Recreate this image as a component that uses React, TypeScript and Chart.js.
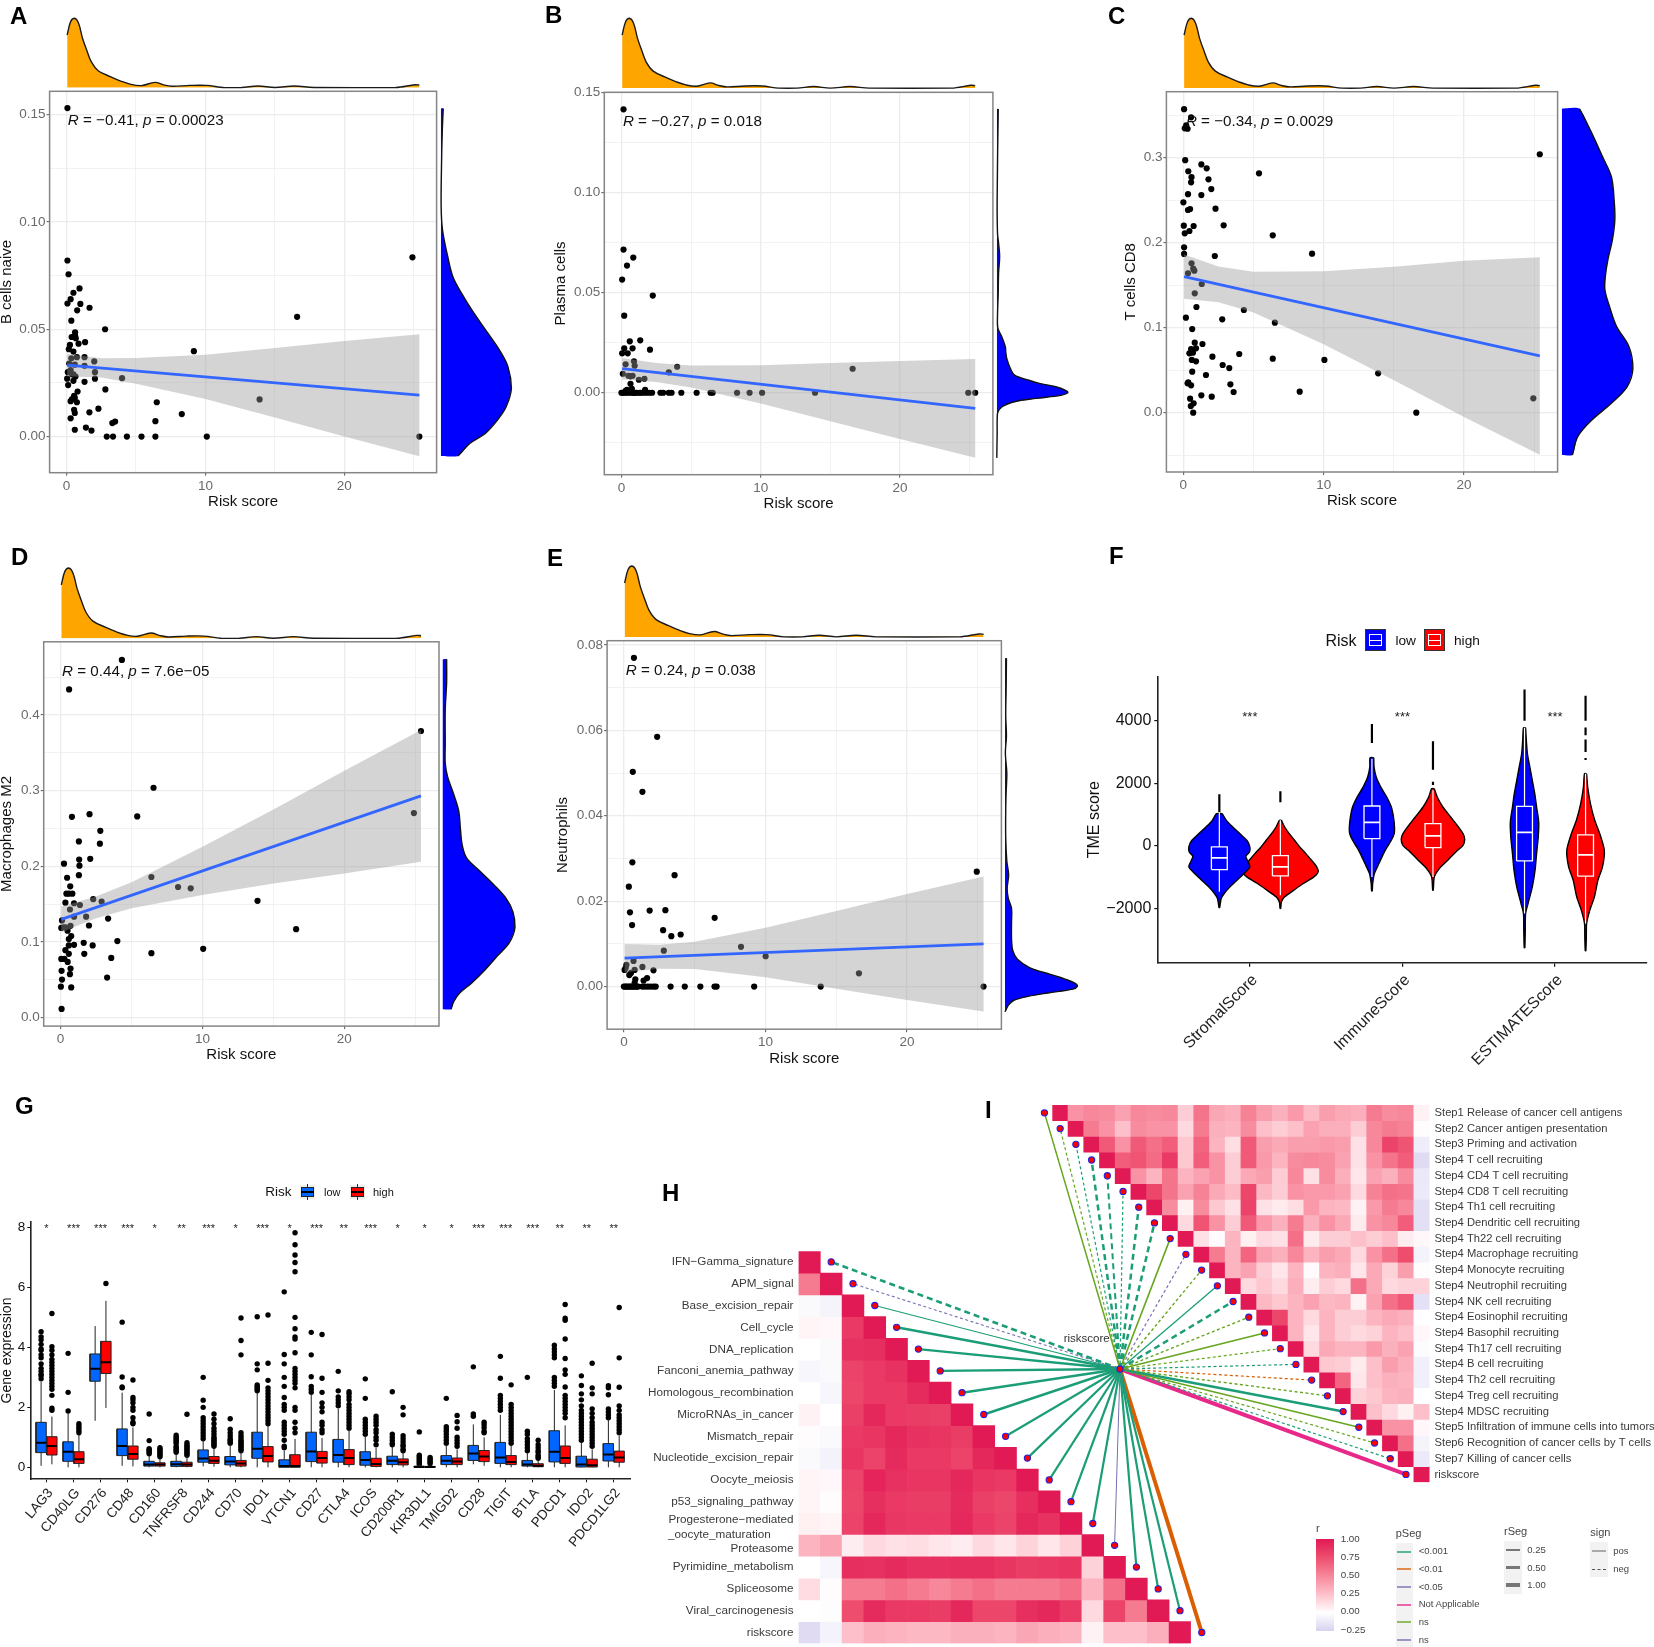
import React, { useEffect, useRef } from "react";
import { Chart, registerables } from "chart.js";

Chart.register(...registerables);
const FONT = '"Liberation Sans", Arial, sans-serif';
Chart.defaults.font.family = FONT;
Chart.defaults.layout.autoPadding = false;

// ---------- shared risk-score density (top marginals)
const riskDensity = [[.05,.76],[.3,.952],[.57,1],[.87,.93],[1.16,.71],[1.46,.54],[1.78,.375],[2.28,.245],[3.15,.16],[3.9,.096],[4.63,.048],[5.4,.03],[6.37,.077],[7,.04],[7.6,.02],[8.85,.033],[10.1,.033],[11.3,.002],[12.6,.002],[13.8,.025],[15,.002],[16.4,.025],[17.8,.002],[23.7,.002],[25.1,.043],[25.4,.038]];

// ---------- panel A
const aPoints = [[.07,.153],[.07,.082],[.15,.0756],[.94,.069],[.5,.067],[.3,.064],[.07,.062],[1,.0618],[1.66,.06],[.77,.0588],[.35,.054],[2.78,.05],[.62,.0486],[.62,.047],[.37,.0464],[.67,.0458],[1.34,.044],[.87,.0433],[.25,.0427],[.17,.0407],[.5,.0396],[9.17,.0398],[.35,.0365],[.75,.037],[.6,.0335],[1.3,.037],[2,.035],[1.3,.033],[.2,.034],[.3,.031],[.5,.029],[.65,.028],[.5,.026],[.4,.029],[.1,.03],[.05,.027],[.12,.024],[2.05,.03],[2.05,.027],[1.3,.0255],[4,.0272],[2.8,.022],[.8,.021],[.6,.018],[.55,.019],[.75,.016],[.3,.0165],[.4,.0175],[.55,.0125],[.6,.011],[1.65,.0113],[2.3,.013],[.3,.0085],[6.5,.016],[8.3,.0105],[13.9,.0173],[6.4,.0072],[3.5,.007],[3.3,.0063],[1.4,.0042],[1.8,.0028],[.6,.0032],[2.9,0],[3.35,0],[4.35,0],[5.4,0],[6.4,0],[10.1,0],[16.6,.0558],[24.9,.0835],[25.4,0]];
const ciX = [.05, 2.5, 5, 10, 15, 20, 25.4];
const aUpper = [.0385,.0365,.0366,.0381,.0413,.0445,.0477];
const aLower = [.0281,.0275,.0246,.0175,.0089,.0001,-.0091];
const aFit = [.0333, .0193];
const aDensity = [[.1528,.034],[.1413,.02],[.1258,.01],[.1071,.005],[.0963,.024],[.0839,.098],[.0745,.171],[.0668,.293],[.059,.439],[.0497,.634],[.0404,.829],[.0326,.951],[.0225,1],[.014,.927],[.0078,.805],[.0016,.634],[-.0031,.415],[-.009,.244]];

// ---------- panel B
const bPoints = [[.15,.1415],[.15,.0715],[.85,.0675],[.4,.0635],[.05,.0565],[2.25,.0485],[.2,.0385],[1.35,.0262],[.6,.0257],[.2,.0222],[.8,.0222],[2.05,.0215],[.05,.0197],[.45,.0197],[.9,.0157],[.95,.0135],[.3,.0142],[3.4,.0102],[4,.013],[16.6,.012],[.1,.0095],[.5,.0085],[.65,.0082],[.65,.0045],[1.25,.0065],[1.65,.007],[.8,.0085],[0,0],[.1,0],[.2,0],[.3,.001],[.35,0],[.4,.0015],[.5,0],[.6,.001],[.7,0],[.75,.002],[.8,0],[.9,0],[1,0],[1.1,0],[1.3,0],[1.4,0],[1.6,0],[1.7,.0015],[1.8,0],[2,0],[2.2,0],[2.8,0],[3,0],[3.4,0],[3.6,0],[4.3,0],[5.4,0],[6.4,0],[6.55,0],[8.3,0],[9.2,0],[10.1,0],[13.9,0],[24.9,0],[25.4,0]];
const bUpper = [.0173,.0148,.0136,.0137,.0148,.0159,.0168];
const bLower = [.0067,.0054,.0026,-.0053,-.0142,-.0231,-.0324];
const bFit = [.012, -.0078];
const bDensity = [[.1417,.02],[.0963,.005],[.0797,.01],[.0747,.025],[.068,.04],[.0597,.025],[.0497,.02],[.038,.01],[.0322,.015],[.028,.07],[.023,.12],[.0205,.126],[.0172,.14],[.0122,.19],[.0088,.25],[.0063,.45],[.0047,.6],[.003,.83],[.001,.98],[0,1],[-.0013,.9],[-.0028,.55],[-.0045,.25],[-.007,.075],[-.0103,.01],[-.0203,.005],[-.0325,0]];

// ---------- panel C
const cPoints = [[.05,.357],[.55,.3475],[.1,.3345],[.3,.334],[.2,.338],[25.4,.304],[.13,.297],[1.28,.292],[1.66,.2875],[.35,.284],[.58,.277],[1.79,.2745],[.55,.271],[5.39,.2816],[1.99,.263],[.33,.257],[1.28,.256],[0,.2475],[2.29,.24],[.48,.2396],[.33,.2384],[2.87,.2204],[.03,.22],[.73,.2196],[.43,.2137],[.1,.211],[6.37,.2086],[.05,.1945],[9.17,.187],[.05,.1867],[2.24,.1843],[.58,.1757],[.7,.1694],[.78,.167],[.33,.164],[1.31,.1514],[.81,.1404],[.93,.1243],[4.31,.1208],[.18,.1118],[2.77,.1098],[6.52,.1059],[.63,.0984],[.81,.0824],[1.36,.0808],[.9,.0757],[.55,.0749],[.43,.0698],[.68,.0706],[3.98,.069],[2.07,.0659],[6.37,.0635],[10.05,.062],[.6,.062],[.9,.0604],[2.8,.0561],[3.27,.0525],[.63,.0482],[13.88,.0463],[1.61,.0443],[.35,.0357],[.3,.0345],[.55,.0322],[3.35,.0333],[3.58,.0243],[8.29,.0247],[1.28,.0204],[2.02,.0188],[.48,.0165],[24.94,.0169],[.73,.011],[.53,.0078],[.7,0],[16.6,0]];
const cUpper = [.186,.172,.1658,.1664,.1718,.1786,.1829];
const cLower = [.134,.13,.1178,.0806,.0382,-.005,-.0495];
const cFit = [.16, .0667];
const cDensity = [[.3576,.249],[.3286,.423],[.3012,.572],[.2776,.697],[.2502,.736],[.2267,.746],[.2031,.711],[.1796,.647],[.16,.612],[.1443,.607],[.1247,.672],[.1012,.771],[.0776,.945],[.0522,1],[.0306,.92],[.011,.697],[-.0086,.423],[-.0282,.224],[-.0498,.149]];

// ---------- panel D
const dPoints = [[4.32,.473],[.6,.434],[25.4,.379],[6.55,.304],[24.9,.2705],[5.4,.266],[.8,.2656],[2.04,.269],[2.8,.247],[2.77,.23],[1.29,.233],[1.31,.209],[2.09,.21],[.24,.2036],[1.33,.2009],[1.29,.1884],[.46,.185],[6.4,.186],[.68,.1737],[8.28,.1728],[9.17,.171],[.41,.164],[.58,.164],[.83,.164],[2.3,.1567],[2.89,.1536],[.34,.152],[.95,.1513],[1.36,.149],[13.88,.1545],[.66,.143],[1.8,.1335],[.95,.1335],[3.35,.131],[.1,.1286],[.2,.1196],[.05,.1187],[.34,.1196],[.7,.1214],[2,.1219],[.49,.115],[16.6,.117],[.75,.108],[.58,.104],[4,.1013],[1.63,.099],[10.05,.091],[.95,.0964],[.58,.0955],[2.26,.0955],[.34,.0893],[.58,.0844],[6.4,.0853],[1.67,.0844],[3.57,.079],[.05,.0777],[.27,.0777],[.5,.0737],[.7,.065],[.07,.062],[.66,.0576],[3.28,.053],[.1,.0504],[.75,.04],[.02,.041],[.07,.0116]];
const dUpper = [.147,.1603,.1792,.2259,.2752,.3263,.3803];
const dLower = [.113,.1313,.1446,.1623,.1774,.1907,.2063];
const dFit = [.13, .2933];
const dDensity = [[.4737,.057],[.4433,.057],[.4076,.038],[.363,.038],[.3362,.038],[.3183,.071],[.296,.152],[.2737,.223],[.2513,.246],[.229,.27],[.2112,.332],[.1933,.521],[.1754,.711],[.1576,.877],[.1397,.972],[.1196,1],[.0996,.924],[.0817,.758],[.0638,.592],[.046,.403],[.0326,.237],[.0214,.156],[.0112,.118]];

// ---------- panel E
const ePoints = [[.71,.077],[2.35,.0585],[.63,.0503],[1.31,.0456],[.6,.0291],[24.92,.0269],[3.58,.0261],[.35,.0234],[.43,.0174],[1.82,.0178],[2.93,.0179],[6.41,.0161],[.58,.0144],[2.77,.0132],[3.35,.0118],[4.01,.0122],[2.82,.0084],[8.27,.0093],[10.01,.0071],[.68,.006],[.18,.0051],[.13,.0044],[.05,.0039],[1.31,.0046],[2.09,.0038],[.76,.0039],[.5,.0032],[.38,.0027],[16.6,.0031],[.81,.0017],[1.39,.0014],[1.64,.002],[.76,.0009],[0,0],[.1,0],[.2,0],[.3,0],[.4,0],[.5,0],[.6,0],[.7,0],[.8,0],[.9,0],[1,0],[1.3,0],[1.5,0],[1.7,0],[1.9,0],[2.1,0],[2.25,0],[3.3,0],[4.3,0],[5.4,0],[6.4,0],[6.55,0],[9.2,0],[13.9,0],[25.4,0]];
const eUpper = [.00995,.00978,.0105,.01376,.01771,.02167,.02578];
const eLower = [.00335,.00418,.0041,.00216,-.00049,-.00313,-.00582];
const eFit = [.00665, .00998];
const eDensity = [[.0769,.02],[.069,.015],[.0634,.01],[.0587,.02],[.0547,.005],[.05,.025],[.0452,.015],[.0413,.01],[.0349,.01],[.0294,.025],[.0262,.05],[.023,.03],[.0207,.045],[.0183,.09],[.0151,.09],[.0112,.09],[.0084,.108],[.0064,.172],[.0044,.345],[.0029,.616],[.0017,.837],[.0007,.975],[.0001,1],[-.0006,.936],[-.0015,.591],[-.0023,.32],[-.0032,.123],[-.0043,.05],[-.0059,0]];

// ---------- panel F
const fCategories = ["StromalScore", "ImmuneScore", "ESTIMATEScore"];
const fStars = ["***", "***", "***"];
const stromalLow = [[1032,.019],[819,.046],[606,.088],[394,.134],[181,.18],[-32,.2],[-192,.197],[-330,.174],[-479,.185],[-670,.2],[-883,.162],[-1096,.116],[-1309,.07],[-1521,.032],[-1681,.012],[-1968,.002]];
const stromalHigh = [[819,.007],[606,.028],[394,.058],[181,.093],[-32,.127],[-245,.167],[-458,.204],[-670,.238],[-830,.248],[-990,.22],[-1202,.15],[-1415,.088],[-1628,.028],[-1787,.007],[-2000,.002]];
const immuneLow = [[2820,.012],[2522,.014],[2202,.028],[1883,.058],[1564,.097],[1245,.127],[926,.141],[606,.148],[394,.146],[181,.127],[-32,.1],[-245,.076],[-564,.046],[-883,.016],[-1202,.005],[-1436,.002]];
const immuneHigh = [[1830,.009],[1564,.028],[1245,.065],[926,.116],[606,.167],[394,.197],[213,.208],[21,.197],[-192,.15],[-458,.097],[-724,.042],[-990,.009],[-1415,.002]];
const estimateLow = [[3777,.007],[3373,.012],[2947,.019],[2522,.035],[2096,.051],[1670,.067],[1245,.079],[766,.093],[287,.09],[-245,.079],[-777,.069],[-1309,.051],[-1841,.023],[-2160,.007],[-2692,.005],[-3256,.002]];
const estimateHigh = [[2309,.007],[1883,.014],[1351,.032],[819,.06],[394,.093],[-138,.123],[-670,.111],[-1096,.081],[-1628,.058],[-2053,.028],[-2479,.007],[-2905,.005],[-3352,.002]];
const fQ1 = [-755,-958,234,-53,-479,-968];
const fMedian = [-383,-670,755,319,436,-287];
const fQ3 = [-32,-309,1277,713,1266,351];
const fWhiskerTop = [1075,820,2790,1777,3777,2309];
const fWhiskerBottom = [-1468,-1575,-990,-990,-2160,-2480];
const fSpikes = [[[1650,1080]],[[1750,1400]],[[3900,3290]],[[3350,2440],[2050,1950]],[[5000,4000]],[[4800,4000],[3790,3540],[3400,3000],[2810,2750]]];

// ---------- panel G
const genes = ["LAG3","CD40LG","CD276","CD48","CD160","TNFRSF8","CD244","CD70","IDO1","VTCN1","CD27","CTLA4","ICOS","CD200R1","KIR3DL1","TMIGD2","CD28","TIGIT","BTLA","PDCD1","IDO2","PDCD1LG2"];
const gStars = ["*","***","***","***","*","**","***","*","***","*","***","**","***","*","*","*","***","***","***","**","**","**"];
const lowQ1 = [.49,.2,2.87,.39,.04,.03,.17,.08,.3,0,.19,.17,.07,.09,0,.09,.23,.13,.04,.18,.01,.21];
const lowMed = [.82,.52,3.29,.71,.09,.1,.29,.19,.62,.04,.53,.41,.24,.22,.01,.22,.46,.33,.09,.52,.09,.43];
const lowQ3 = [1.5,.85,3.78,1.28,.2,.2,.58,.36,1.17,.25,1.17,.93,.52,.37,.04,.39,.73,.83,.23,1.22,.37,.79];
const lowTop = [2.85,1.8,4.71,2.49,.38,.45,.9,.75,2.5,.55,2.43,1.95,1.05,.7,.08,.75,1.43,1.75,.48,2.58,.82,1.6];
const lowBottom = [.05,0,1.55,.05,0,0,.03,0,0,0,0,0,0,0,0,0,.1,0,0,0,0,0];
const highQ1 = [.41,.13,3.13,.27,.04,.03,.13,.04,.18,0,.14,.09,.03,.08,0,.09,.19,.09,.02,.13,.01,.17];
const highMed = [.71,.27,3.5,.44,.09,.09,.22,.13,.38,.04,.31,.31,.11,.17,.01,.19,.36,.18,.05,.31,.07,.33];
const highQ3 = [1.02,.52,4.2,.71,.15,.17,.36,.23,.69,.42,.53,.59,.3,.28,.03,.31,.56,.39,.12,.71,.27,.54];
const highTop = [1.69,1.1,5.55,1.33,.3,.38,.65,.5,1.4,.95,.98,1.28,.65,.5,.07,.6,1,.72,.22,1.4,.6,1.05];
const highBottom = [.1,0,1.98,.03,0,0,.02,0,0,0,0,0,0,0,0,0,.05,0,0,0,0,0];
const lowOutliers = [
  [4.52,4.35,4.25,4.1,3.95,3.9,3.75,3.65,3.45,3.3,3.2,3.1,3.05,2.95],[3.8,2.5,1.88],[],[4.84,3.01,2.68,2.65],[1.78,.89,.62,.58,.55,.5,.45],[1.07,1,.95,.9,.85,.8,.7,.65,.6,.55,.5],
  [3,2.24,2,1.65,1.55,1.45,1.35,1.25,1.15,1.05,.95],[1.62,1.27,1.15,1.05,.95,.9,.85,.8],[5.02,3.45,3.25,2.75,2.7,2.65,2.6,2.55],[5.85,3.76,3.45,3,2.7,2.33,2.1,2,1.9,1.5,1.4,1.3,1.2,1.1,.9,.7,.65],[4.5,3.75,3.02,2.7,2.6,2.5],[3.2,2.55,2.35,2.25,2.15,2.05],
  [2.95,2.3,1.6,1.5,1.4,1.3,1.2,1.1],[2.52,1.1,1,.9,.8,.75],[1.18,.4,.35,.3,.25,.2,.15,.1],[2.3,1.35,1.28,1.2,1.1,1,.9,.8],[3.35,1.78,1.7],[3.7,2.97,2.4,2.3,2.2,2.1,2,1.9],
  [3,1.2,1.1,.95,.85,.75,.65,.55],[4.07,3.95,3.85,3.75,3.65,3,2.9,2.8,2.7],[3.05,2.73,2.45,2.25,2.05,1.9,1.8,1.7,1.6,1.5,1.4,1.3,1.2,1.1,1,.9],[2.72,2.65,2.42,1.95,1.85,1.75,1.65]];
const highOutliers = [
  [5.13,4.02,3.9,3.75,3.6,3.5,3.4,3.3,3.2,3.1,3,2.9,2.8,2.7,2.6,2.4,1.97,1.9],[1.45,1.38,1.3,1.22,1.15],[6.13],[2.91,2.33,2.25,2.15,2,1.9,1.65,1.5,1.45],[.65,.6,.55,.5,.45,.4,.35],[1.77,.82,.75,.7,.65,.6,.55,.5,.45,.4],
  [1.78,1.6,1.45,1.3,1.2,1.1,1,.95,.9,.85,.8,.75,.7],[4.98,4.23,3.75,1.15,1.05,.98,.9,.85,.8,.75,.7,.65,.6,.55],[5.08,3.47,2.9,2.65,2.55,2.45,2.35,2.25,2.15,2.05,1.95,1.85,1.75,1.65,1.55,1.45],[7.82,7.42,7.08,6.83,6.52,5,4.62,4.35,4.28,3.82,3.3,3.2,3.1,3,2.9,2.8,2.65,2,1.9,1.5,1.3,1.15],[4.43,2.97,2.5,2.15,2,1.85,1.5,1.4,1.25,1.15],[2.52,2.45,2.35,2.25,2.1,2,1.9,1.8,1.7,1.6,1.5,1.4,1.3],
  [1.7,1.6,1.5,1.4,1.25,1.15,1,.9,.75],[2,1.75,1.05,.95,.85,.75,.7,.6,.55],[.33,.28,.22,.17,.12],[1.73,1.52,1.3,1,.9,.8,.7],[1.5,1.42,1.32,1.2,1.15],[2.75,2.1,2,1.9,1.8,1.7,1.6,1.5,1.4,1.3,1.2,1.1,1,.9,.8],
  [.9,.75,.65,.55,.5,.4,.35,.3],[5.43,4.97,4.9,4.28,3.63,3.25,3.1,2.68,2.4,2.3,2.2,2.1,2,1.9,1.8,1.65],[3.47,2.65,2.45,1.95,1.8,1.65,1.5,1.4,1.3,1.2,1.1,1,.9,.8,.7],[5.33,3.65,2.67,2.05,1.9,1.75,1.65,1.55,1.45,1.35,1.25,1.15]];

// ---------- panel H
const hLabels = ["IFN−Gamma_signature","APM_signal","Base_excision_repair","Cell_cycle","DNA_replication","Fanconi_anemia_pathway","Homologous_recombination","MicroRNAs_in_cancer","Mismatch_repair","Nucleotide_excision_repair","Oocyte_meiosis","p53_signaling_pathway",["Progesterone−mediated","_oocyte_maturation       "],"Proteasome","Pyrimidine_metabolism","Spliceosome","Viral_carcinogenesis","riskscore"];
const hRows = [
  [1],[.55,1],[-.03,-.06,1],[.04,.03,.85,1],[0,-.03,.88,.9,1],[-.05,-.03,.8,.85,.88,1],[0,-.05,.78,.85,.85,.92,1],[.05,0,.82,.93,.85,.83,.82,1],
  [.01,-.03,.85,.87,.93,.88,.87,.83,1],[-.03,-.07,.87,.8,.92,.85,.85,.8,.93,1],[.04,.03,.8,.95,.88,.87,.87,.93,.87,.85,1],[.04,.01,.78,.9,.85,.83,.83,.92,.82,.78,.9,1],
  [.06,.04,.8,.93,.86,.85,.85,.93,.85,.8,.93,.88,1],[.3,.37,.07,.15,.12,.13,.1,.07,.15,.1,.17,.1,.18,1],[0,-.05,.9,.88,.92,.88,.88,.9,.9,.87,.83,.85,.87,.18,1],
  [.14,.01,.55,.55,.6,.55,.5,.55,.6,.55,.55,.55,.6,.3,.6,1],[0,-.01,.75,.92,.85,.85,.83,.93,.78,.78,.9,.93,.85,.15,.8,.55,1],[-.2,-.07,.25,.33,.3,.28,.28,.32,.32,.3,.36,.33,.3,.05,.25,.25,.33,1]];
const hLinkP = ["<0.001","<0.05","<0.001","<0.001","<0.001","<0.001","<0.001","<0.001","<0.001","<0.001","<0.001","<0.001","<0.001","<0.05","<0.001","<0.001","<0.001","<0.01"];
const hLinkWidth = [2.6,1.1,1.2,2.4,2.4,2.4,2.4,2.4,2.2,2.2,2.2,2.2,2.2,1,2.2,2.2,2.2,4];
const hLinkDashed = [true,true,false,false,false,false,false,false,false,false,false,false,false,false,false,false,false,false];

// ---------- panel I
const iLabels = ["Step1 Release of cancer cell antigens","Step2 Cancer antigen presentation","Step3 Priming and activation","Step4 T cell recruiting","Step4 CD4 T cell recruiting","Step4 CD8 T cell recruiting","Step4 Th1 cell recruiting","Step4 Dendritic cell recruiting","Step4 Th22 cell recruiting","Step4 Macrophage recruiting","Step4 Monocyte recruiting","Step4 Neutrophil recruiting","Step4 NK cell recruiting","Step4 Eosinophil recruiting","Step4 Basophil recruiting","Step4 Th17 cell recruiting","Step4 B cell recruiting","Step4 Th2 cell recruiting","Step4 Treg cell recruiting","Step4 MDSC recruiting","Step5 Infiltration of immune cells into tumors","Step6 Recognition of cancer cells by T cells","Step7 Killing of cancer cells","riskscore"];
const iRows = [
  [1,.45,.5,.48,.38,.5,.48,.5,.2,.58,.36,.33,.52,.4,.32,.42,.27,.4,.35,.33,.55,.48,.5,.05],
  [1,.55,.45,.25,.48,.45,.45,.15,.55,.32,.3,.48,.25,.2,.25,.38,.33,.33,.2,.5,.55,.52,.01],
  [1,.7,.45,.7,.6,.68,.22,.65,.3,.13,.7,.4,.35,.4,.4,.42,.4,.12,.5,.8,.72,-.1],
  [1,.68,.72,.62,.85,.22,.68,.45,.2,.7,.42,.3,.48,.5,.48,.38,.12,.45,.58,.68,-.2],
  [1,.45,.3,.58,.3,.38,.45,.2,.35,.4,.2,.5,.12,.48,.33,.1,.38,.32,.48,-.13],
  [1,.78,.58,.38,.52,.35,.27,.78,.28,.2,.45,.42,.42,.38,.15,.52,.6,.58,-.12],
  [1,.48,.06,.48,.22,.12,.8,.12,.08,.13,.42,.3,.28,.05,.42,.55,.5,-.18],
  [1,.15,.72,.45,.2,.7,.42,.32,.55,.32,.45,.35,.08,.45,.5,.68,-.18],
  [1,.12,.02,.3,.06,.15,.12,.6,.08,.2,.2,.25,.2,.25,.07,.03],
  [1,.55,.3,.65,.38,.32,.5,.3,.4,.35,.15,.45,.6,.75,-.07],
  [1,.3,.38,.2,.1,.3,.02,.3,.33,.1,.35,.18,.4,-.01],
  [1,.15,.22,.15,.33,.07,.2,.15,.6,.35,.15,.18,.18],
  [1,.28,.22,.3,.38,.28,.3,.05,.38,.6,.7,-.17],
  [1,.78,.3,.15,.3,.2,.2,.3,.35,.32,0],
  [1,.3,.1,.3,.2,.15,.18,.3,.25,.03],
  [1,.15,.35,.3,.3,.42,.32,.38,-.02],
  [1,.22,.2,.08,.25,.4,.33,-.09],
  [1,.65,.1,.25,.32,.3,-.09],
  [1,.18,.22,.3,.32,0],
  [1,.25,.15,.06,.25],
  [1,.45,.45,.03],
  [1,.6,-.06],
  [1,-.12],
  [1]];
const iLinkP = ["ns","ns","<0.001","<0.001","<0.001","<0.001","<0.001","<0.001","ns","<0.05","ns","<0.001","<0.001","ns","ns","ns","<0.001","<0.01","ns","<0.001","ns","ns","<0.001","NA"];
const iLinkWidth = [1.5,1.2,1.2,2.5,2,1.2,2.5,2.5,1.6,1.2,1.4,1.3,2.5,1.4,1.6,1.2,1.2,1.2,1.4,2.5,1.6,1.2,1.2,4];
const iLinkDashed = [false,true,true,true,true,true,true,true,false,true,true,false,true,true,false,true,true,true,true,false,false,true,true,false];

const pColors: Record<string,string> = { "<0.001":"#1B9E77", "<0.01":"#D95F02", "<0.05":"#7570B3", "NA":"#E7298A", "ns":"#66A61E" };

// ---------- helpers
const heatStops: [number, number[]][] = [[-.25,[216,210,240]],[0,[255,255,255]],[.25,[253,192,202]],[.5,[247,135,154]],[.75,[238,77,110]],[1,[225,26,85]]];
function heat(r: number) {
  for (let i = 1; i < heatStops.length; i++) {
    const [b, cb] = heatStops[i], [a, ca] = heatStops[i - 1];
    if (r <= b) {
      const t = Math.max(0, (r - a) / (b - a));
      return `rgb(${ca.map((c, k) => Math.round(c + (cb[k] - c) * t)).join(",")})`;
    }
  }
  return "rgb(225,26,85)";
}

function frame(L: number, T: number, R: number, B: number, l: number, t: number, r: number, b: number) {
  const left = Math.floor(L - l), top = Math.floor(T - t);
  const w = Math.ceil(R + r) - left, h = Math.ceil(B + b) - top;
  return { left, top, w, h, l: L - left, t: T - top, r: w - (R - left), b: h - (B - top) };
}
const xy = (p: number[][]) => p.map(([x, y]) => ({ x, y }));
const base: any = { responsive: false, animation: false, events: [], plugins: { legend: { display: false }, tooltip: { enabled: false } } };
const hidden = (min: number, max: number, extra: any = {}) => ({ type: "linear", display: false, min, max, ...extra });
const textPlugin = (items: { x: number; y: number; text: string }[], font: string) => ({
  id: "textMarks",
  afterDatasetsDraw(chart: any) {
    const { ctx, scales } = chart;
    ctx.save(); ctx.font = font; ctx.fillStyle = "#222"; ctx.textAlign = "center"; ctx.textBaseline = "middle";
    items.forEach((m) => ctx.fillText(m.text, scales.x.getPixelForValue(m.x), scales.y.getPixelForValue(m.y)));
    ctx.restore();
  },
});
const borderPlugin = {
  id: "panelBorder",
  afterDraw(chart: any) {
    const { ctx, chartArea: a } = chart;
    ctx.save(); ctx.strokeStyle = "#858585"; ctx.lineWidth = 1.5; ctx.strokeRect(a.left, a.top, a.right - a.left, a.bottom - a.top); ctx.restore();
  },
};

type Spec = { f: any; config: any };
const specs: Spec[] = [];
const add = (f: any, config: any) => specs.push({ f, config });

type Panel = { L: number; R: number; T: number; B: number; titleX: number; titleY: number; xMin: number; xMax: number; yMin: number; yMax: number; yMajor: number[]; yMinor: number[]; dec: number; label: string; pts: number[][]; upper: number[]; lower: number[]; fit: number[]; density: number[][]; topBase: number; topPeak: number; sideBase: number; sidePeak: number };

function addPanel(p: Panel) {
  const f = frame(p.L, p.T, p.R, p.B, p.L - (p.titleX - 9), 12, 4, p.titleY + 9 - p.B);
  const gridW = (major: (v: number) => boolean) => (ctx: any) => (ctx.tick && major(ctx.tick.value) ? 1.3 : 0.7);
  const tickC = (major: (v: number) => boolean) => (ctx: any) => (ctx.tick && major(ctx.tick.value) ? "#555" : "rgba(0,0,0,0)");
  const xMajor = (v: number) => v % 10 === 0;
  const yMajor = (v: number) => p.yMajor.includes(v);
  add(f, {
    type: "scatter",
    data: {
      datasets: [
        { data: [{ x: ciX[0], y: p.fit[0] }, { x: ciX[ciX.length - 1], y: p.fit[1] }], showLine: true, borderColor: "#3366FF", borderWidth: 2.8, pointRadius: 0, backgroundColor: "transparent" },
        { data: [...ciX.map((x, i) => ({ x, y: p.upper[i] })), ...ciX.map((x, i) => ({ x, y: p.lower[i] })).reverse()], showLine: true, fill: "shape", backgroundColor: "rgba(153,153,153,0.42)", borderWidth: 0, borderColor: "transparent", pointRadius: 0, tension: 0 },
        { data: xy(p.pts), backgroundColor: "#000", borderColor: "#000", pointRadius: 3.1, pointBorderWidth: 0 },
      ],
    },
    options: {
      ...base,
      layout: { padding: { top: f.t, right: f.r, left: 0, bottom: 0 } },
      scales: {
        x: {
          type: "linear", position: "bottom", min: p.xMin, max: p.xMax,
          afterBuildTicks: (s: any) => { s.ticks = [0, 5, 10, 15, 20, 25].map((value) => ({ value })); },
          afterFit: (s: any) => { s.height = f.b; },
          title: { display: true, text: "Risk score", font: { size: 15 }, color: "#111", padding: 0 },
          ticks: { autoSkip: false, maxRotation: 0, padding: 2, font: { size: 13.5 }, color: "#6a6a6a", callback: (v: number) => (xMajor(v) ? String(v) : "") },
          grid: { color: "#ececec", lineWidth: gridW(xMajor), tickColor: tickC(xMajor), tickLength: 3, tickWidth: 1 },
          border: { display: false },
        },
        y: {
          type: "linear", min: p.yMin, max: p.yMax,
          afterBuildTicks: (s: any) => { s.ticks = [...p.yMajor, ...p.yMinor].sort((a, b) => a - b).map((value) => ({ value })); },
          afterFit: (s: any) => { s.width = f.l; },
          title: { display: true, text: p.label, font: { size: 15 }, color: "#111", padding: 0 },
          ticks: { autoSkip: false, padding: 1, font: { size: 13.5 }, color: "#6a6a6a", callback: (v: number) => (yMajor(v) ? v.toFixed(p.dec) : "") },
          grid: { color: "#ececec", lineWidth: gridW(yMajor), tickColor: tickC(yMajor), tickLength: 3, tickWidth: 1 },
          border: { display: false },
        },
      },
    },
    plugins: [borderPlugin],
  });

  const ft = frame(p.L, p.topPeak, p.R, p.topBase, 0, 3, 0, 1);
  add(ft, {
    type: "scatter",
    data: { datasets: [{ data: xy(riskDensity), showLine: true, fill: "origin", backgroundColor: "#FFA500", borderColor: "#1a1a1a", borderWidth: 1.4, pointRadius: 0, tension: 0.35, clip: false }] },
    options: { ...base, layout: { padding: { top: ft.t, left: ft.l, right: ft.r, bottom: ft.b } }, scales: { x: hidden(p.xMin, p.xMax), y: hidden(0, 1) } },
  });

  const fs = frame(p.sideBase, p.T, p.sidePeak, p.B, 1, 0, 3, 0);
  const curve = p.density.map(([v, w]) => ({ x: w, y: v }));
  add(fs, {
    type: "scatter",
    data: {
      datasets: [
        { data: curve, showLine: true, borderColor: "#111", borderWidth: 1.4, pointRadius: 0, tension: 0.35, clip: false, backgroundColor: "transparent" },
        { data: [{ x: 0, y: p.density[0][0] }, ...curve, { x: 0, y: p.density[p.density.length - 1][0] }], showLine: true, fill: "shape", backgroundColor: "#0000FF", borderWidth: 0, borderColor: "transparent", pointRadius: 0, tension: 0.2, clip: false },
      ],
    },
    options: { ...base, layout: { padding: { top: fs.t, left: fs.l, right: fs.r, bottom: fs.b } }, scales: { x: hidden(0, 1), y: hidden(p.yMin, p.yMax) } },
  });
}

addPanel({ L: 49.6, R: 436.6, T: 91.3, B: 472.7, titleX: 7.2, titleY: 502, xMin: -1.214, xMax: 26.64, yMin: -.0168, yMax: .1608, yMajor: [0,.05,.1,.15], yMinor: [.025,.075,.125], dec: 2, label: "B cells naive", pts: aPoints, upper: aUpper, lower: aLower, fit: aFit, density: aDensity, topBase: 87.7, topPeak: 18.3, sideBase: 440.8, sidePeak: 511.4 });
addPanel({ L: 604.3, R: 992.9, T: 92.3, B: 474.7, titleX: 561.7, titleY: 503.3, xMin: -1.23, xMax: 26.67, yMin: -.0409, yMax: .15, yMajor: [0,.05,.1,.15], yMinor: [-.025,.025,.075,.125], dec: 2, label: "Plasma cells", pts: bPoints, upper: bUpper, lower: bLower, fit: bFit, density: bDensity, topBase: 88.3, topPeak: 18.3, sideBase: 996.8, sidePeak: 1067.9 });
addPanel({ L: 1166.4, R: 1557.6, T: 91.7, B: 472, titleX: 1131, titleY: 500.6, xMin: -1.21, xMax: 26.67, yMin: -.0698, yMax: .3776, yMajor: [0,.1,.2,.3], yMinor: [-.05,.05,.15,.25,.35], dec: 1, label: "T cells CD8", pts: cPoints, upper: cUpper, lower: cLower, fit: cFit, density: cDensity, topBase: 88.3, topPeak: 18.3, sideBase: 1561.8, sidePeak: 1632.9 });
addPanel({ L: 43.7, R: 439, T: 641.8, B: 1026.1, titleX: 7.2, titleY: 1054.5, xMin: -1.19, xMax: 26.67, yMin: -.0111, yMax: .4969, yMajor: [0,.1,.2,.3,.4], yMinor: [.05,.15,.25,.35,.45], dec: 1, label: "Macrophages M2", pts: dPoints, upper: dUpper, lower: dLower, fit: dFit, density: dDensity, topBase: 638.4, topPeak: 568, sideBase: 442.5, sidePeak: 515 });
addPanel({ L: 607.1, R: 1001.4, T: 640.7, B: 1029.2, titleX: 563, titleY: 1058.2, xMin: -1.185, xMax: 26.66, yMin: -.00998, yMax: .081, yMajor: [0,.02,.04,.06,.08], yMinor: [.01,.03,.05,.07], dec: 2, label: "Neutrophils", pts: ePoints, upper: eUpper, lower: eLower, fit: eFit, density: eDensity, topBase: 637, topPeak: 566, sideBase: 1005, sidePeak: 1077.5 });

// ---------- F chart
(function () {
  const L = 1158.3, R = 1646.6, T = 676, B = 962.7;
  const f = frame(L, T, R, B, L - (1095 - 9.6), 12, 4, 125);
  const fills = ["#0000FF", "#FF0000"];
  const violins = [stromalLow, stromalHigh, immuneLow, immuneHigh, estimateLow, estimateHigh];
  const top: any[] = [], mid: any[] = [], bottom: any[] = [];
  violins.forEach((v, i) => {
    const cx = Math.floor(i / 2) + 1 + (i % 2 ? .2 : -.2);
    const bw = .052;
    const line = (pts: any[], color: string, width: number) => ({ data: pts, showLine: true, borderColor: color, borderWidth: width, pointRadius: 0, backgroundColor: "transparent" });
    top.push(line([{ x: cx - bw, y: fMedian[i] }, { x: cx + bw, y: fMedian[i] }], "#fff", 1.7));
    top.push(line([{ x: cx - bw, y: fQ1[i] }, { x: cx + bw, y: fQ1[i] }, { x: cx + bw, y: fQ3[i] }, { x: cx - bw, y: fQ3[i] }, { x: cx - bw, y: fQ1[i] }], "#fff", 1.3));
    top.push(line([{ x: cx, y: fQ3[i] }, { x: cx, y: fWhiskerTop[i] }], "#fff", 1.2));
    top.push(line([{ x: cx, y: fQ1[i] }, { x: cx, y: fWhiskerBottom[i] }], "#fff", 1.2));
    fSpikes[i].forEach(([a, b]) => mid.push(line([{ x: cx, y: a }, { x: cx, y: b }], "#000", 2.2)));
    const right = v.map(([y, w]) => ({ x: cx + w, y }));
    const left = v.map(([y, w]) => ({ x: cx - w, y })).reverse();
    bottom.push({ data: [...right, ...left, right[0]], showLine: true, fill: "shape", backgroundColor: fills[i % 2], borderColor: "#000", borderWidth: 1.4, pointRadius: 0, tension: 0.25 });
  });
  add(f, {
    type: "scatter",
    data: { datasets: [...top, ...mid, ...bottom] },
    options: {
      ...base,
      layout: { padding: { top: f.t, right: f.r, left: 0, bottom: 0 } },
      scales: {
        x: {
          type: "linear", min: .4, max: 3.6,
          afterBuildTicks: (s: any) => { s.ticks = [1, 2, 3].map((value) => ({ value })); },
          afterFit: (s: any) => { s.height = f.b; },
          ticks: { autoSkip: false, minRotation: 45, maxRotation: 45, padding: 4, labelOffset: 5, font: { size: 16 }, color: "#222", callback: (v: number) => fCategories[v - 1] },
          grid: { display: true, drawOnChartArea: false, color: "#111", tickLength: 4, lineWidth: 1.2 },
          border: { display: true, color: "#222", width: 1.6 },
        },
        y: {
          type: "linear", min: -3734, max: 5415,
          afterBuildTicks: (s: any) => { s.ticks = [-2000, 0, 2000, 4000].map((value) => ({ value })); },
          afterFit: (s: any) => { s.width = f.l; },
          title: { display: true, text: "TME score", font: { size: 16 }, color: "#111", padding: 0 },
          ticks: { autoSkip: false, padding: 3, font: { size: 16 }, color: "#111", callback: (v: number) => (v < 0 ? "−" + Math.abs(v) : String(v)) },
          grid: { display: true, drawOnChartArea: false, color: "#111", tickLength: 4, lineWidth: 1.2 },
          border: { display: true, color: "#222", width: 1.6 },
        },
      },
    },
    plugins: [textPlugin(fStars.map((text, i) => ({ x: i + 1, y: 4100, text })), '13px "Liberation Sans"')],
  });
})();

// ---------- G chart
(function () {
  const L = 30.3, R = 630, T = 1221.7, B = 1479.3;
  const f = frame(L, T, R, B, L - (8 - 8.4), 12, 4, 125);
  const colors = ["#0066FF", "#FF0000"];
  const series = [
    { off: -.2, q1: lowQ1, med: lowMed, q3: lowQ3, top: lowTop, bot: lowBottom, out: lowOutliers },
    { off: .2, q1: highQ1, med: highMed, q3: highQ3, top: highTop, bot: highBottom, out: highOutliers },
  ];
  const meds: any[] = [], boxes: any[] = [], whisk: any[] = [], outs: any[] = [];
  const hw = .19;
  series.forEach((s, k) => {
    const pts: any[] = [];
    genes.forEach((_, i) => {
      const cx = i + 1 + s.off;
      meds.push({ data: [{ x: cx - hw, y: s.med[i] }, { x: cx + hw, y: s.med[i] }], showLine: true, borderColor: "#000", borderWidth: 2, pointRadius: 0, backgroundColor: "transparent" });
      boxes.push({ data: [{ x: cx - hw, y: s.q1[i] }, { x: cx + hw, y: s.q1[i] }, { x: cx + hw, y: s.q3[i] }, { x: cx - hw, y: s.q3[i] }, { x: cx - hw, y: s.q1[i] }], showLine: true, fill: "shape", backgroundColor: colors[k], borderColor: "#222", borderWidth: 1, pointRadius: 0 });
      whisk.push({ data: [{ x: cx, y: s.bot[i] }, { x: cx, y: s.top[i] }], showLine: true, borderColor: "#222", borderWidth: 1, pointRadius: 0, backgroundColor: "transparent" });
      s.out[i].forEach((y) => pts.push({ x: cx, y }));
    });
    outs.push({ data: pts, backgroundColor: "#000", borderColor: "#000", pointRadius: 2.7, pointBorderWidth: 0 });
  });
  add(f, {
    type: "scatter",
    data: { datasets: [...meds, ...boxes, ...whisk, ...outs] },
    options: {
      ...base,
      layout: { padding: { top: f.t, right: f.r, left: 0, bottom: 0 } },
      scales: {
        x: {
          type: "linear", min: .4, max: 22.6,
          afterBuildTicks: (s: any) => { s.ticks = genes.map((_, i) => ({ value: i + 1 })); },
          afterFit: (s: any) => { s.height = f.b; },
          ticks: { autoSkip: false, minRotation: 50, maxRotation: 50, padding: 3, labelOffset: 4, font: { size: 13.5 }, color: "#222", callback: (v: number) => genes[v - 1] },
          grid: { display: true, drawOnChartArea: false, color: "#111", tickLength: 3, lineWidth: 1 },
          border: { display: true, color: "#222", width: 1.6 },
        },
        y: {
          type: "linear", min: -.4, max: 8.19,
          afterBuildTicks: (s: any) => { s.ticks = [0, 2, 4, 6, 8].map((value) => ({ value })); },
          afterFit: (s: any) => { s.width = f.l; },
          title: { display: true, text: "Gene expression", font: { size: 14 }, color: "#111", padding: 0 },
          ticks: { autoSkip: false, padding: 2, font: { size: 13.5 }, color: "#111", callback: (v: number) => String(v) },
          grid: { display: true, drawOnChartArea: false, color: "#111", tickLength: 3, lineWidth: 1 },
          border: { display: true, color: "#222", width: 1.6 },
        },
      },
    },
    plugins: [textPlugin(gStars.map((text, i) => ({ x: i + 1, y: 7.95, text })), '11px "Liberation Sans"')],
  });
})();

// ---------- heatmaps H and I
const hLeft = 798.5, hTop = 1251, hCell = 21.8;
const iLeft = 1052.3, iTop = 1105, iCell = 15.72;

function heatChart(rows: number[][], labels: any[], L: number, T: number, cell: number, side: "left" | "right", fontSize: number, upper: boolean, nudged: number[]) {
  const n = rows.length;
  const R = L + cell * n, B = T + cell * n;
  const f = side === "left" ? frame(L, T, R, B, 170, 12, 2, 12) : frame(L, T, R, B, 2, 12, 224, 12);
  const cols = rows.map((_, i) => String(i));
  add(f, {
    type: "bar",
    data: {
      labels: cols,
      datasets: rows.map((row, i) => ({
        data: cols.map((_, c) => {
          const idx = upper ? c - i : c;
          return idx >= 0 && idx < row.length ? [i, i + 1] : null;
        }),
        backgroundColor: cols.map((_, c) => {
          const idx = upper ? c - i : c;
          return idx >= 0 && idx < row.length ? heat(row[idx]) : "transparent";
        }),
        grouped: false, barPercentage: 1, categoryPercentage: 1, borderWidth: 0,
      })),
    },
    options: {
      ...base,
      layout: { padding: side === "left" ? { top: f.t, bottom: f.b, right: f.r, left: 0 } : { top: f.t, bottom: f.b, left: f.l, right: 0 } },
      scales: {
        x: { type: "category", display: false, offset: true },
        y: {
          type: "linear", min: 0, max: n, reverse: true, position: side,
          afterBuildTicks: (s: any) => { s.ticks = rows.map((_, i) => ({ value: i + .5 + (nudged.includes(i) ? .17 : 0) })); },
          afterFit: (s: any) => { s.width = side === "left" ? f.l : f.r; },
          ticks: { autoSkip: false, padding: 5, font: { size: fontSize, lineHeight: 1.25 }, color: "#3a3a3a", callback: (v: number) => labels[Math.floor(v)] },
          grid: { display: false, drawTicks: false },
          border: { display: false },
        },
      },
    },
  });
}
heatChart(hRows, hLabels, hLeft, hTop, hCell, "left", 11.7, false, [12, 13]);
heatChart(iRows, iLabels, iLeft, iTop, iCell, "right", 11.2, true, []);

// ---------- mantel-style links, drawn over the heatmaps on a page-sized scale
const hubX = 1120, hubY = 1369;
(function () {
  const ends = [
    ...hRows.map((_, i) => ({ x: hLeft + (i + 1.5) * hCell, y: hTop + (i + .5) * hCell, p: hLinkP[i], w: hLinkWidth[i], d: hLinkDashed[i] })),
    ...iRows.map((_, i) => ({ x: iLeft + (i - .5) * iCell, y: iTop + (i + .5) * iCell, p: iLinkP[i], w: iLinkWidth[i], d: iLinkDashed[i] })),
  ];
  const f = { left: 0, top: 0, w: 1654, h: 1647 };
  add(f, {
    type: "scatter",
    data: {
      datasets: [
        { data: [...ends.map((e) => ({ x: e.x, y: e.y })), { x: hubX, y: hubY }], backgroundColor: "#FF0000", borderColor: "#2222DD", pointRadius: 3.1, pointBorderWidth: 1.1 },
        ...ends.map((e) => ({
          data: [{ x: hubX, y: hubY }, { x: e.x, y: e.y }], showLine: true, borderColor: pColors[e.p], borderWidth: e.w,
          borderDash: e.d ? (e.w > 1.8 ? [6, 4] : [3, 2.5]) : [], pointRadius: 0, backgroundColor: "transparent",
        })),
      ],
    },
    options: { ...base, layout: { padding: 0 }, scales: { x: hidden(0, 1654), y: hidden(0, 1647, { reverse: true }) } },
  });
})();

// ---------- DOM text and legends
const T = ({ x, y, s, c = "#111", b = false, children }: any) => (
  <div style={{ position: "absolute", left: x, top: y, transform: "translateY(-50%)", fontSize: s, color: c, fontWeight: b ? 700 : 400, whiteSpace: "nowrap", lineHeight: 1, fontFamily: FONT }}>{children}</div>
);
const Rect = ({ x, y, w, h, bg, style }: any) => <div style={{ position: "absolute", left: x, top: y, width: w, height: h, background: bg, ...style }} />;

const panelLetters: [string, number, number][] = [["A",10,16],["B",545,15],["C",1108,16],["D",11,557],["E",547,558],["F",1109,556],["G",15,1106],["H",662,1193],["I",985,1110]];
const statTexts: [string, string, string, number, number][] = [["−0.41","0.00023","=",67.8,120],["−0.27","0.018","=",622.9,120.7],["−0.34","0.0029","=",1185.9,120.7],["0.44","7.6e−05","=",62,671.2],["0.24","0.038","=",625.7,670.2]];
const colorTicks = ["1.00","0.75","0.50","0.25","0.00","−0.25"];
const pSegLabels = ["<0.001","<0.01","<0.05","Not Applicable","ns","ns"];
const pSegColors = ["#1B9E77","#D95F02","#7570B3","#E7298A","#66A61E","#7570B3"];
const rSegLabels = ["0.25","0.50","1.00"];
const signLabels = ["pos","neg"];

const FKey = ({ x, fill }: any) => (
  <div style={{ position: "absolute", left: x, top: 629, width: 21, height: 22, background: fill, border: "1px solid #333", boxSizing: "border-box" }}>
    <div style={{ position: "absolute", left: 3, top: 4, width: 13, height: 12, border: "1.3px solid #fff", boxSizing: "border-box" }} />
    <div style={{ position: "absolute", left: 3, top: 9.5, width: 13, height: 1.5, background: "#fff" }} />
  </div>
);
const GKey = ({ x, fill }: any) => (
  <div style={{ position: "absolute", left: x, top: 1185, width: 15, height: 14, background: "#eee" }}>
    <div style={{ position: "absolute", left: 7, top: -1, width: 1, height: 16, background: "#333" }} />
    <div style={{ position: "absolute", left: 1, top: 2, width: 13, height: 10, background: fill, border: "1px solid #222", boxSizing: "border-box" }} />
    <div style={{ position: "absolute", left: 1, top: 6, width: 13, height: 1.5, background: "#000" }} />
  </div>
);

export default function App() {
  const refs = useRef<(HTMLCanvasElement | null)[]>([]);
  useEffect(() => {
    const charts = specs.map((s, i) => new Chart(refs.current[i] as HTMLCanvasElement, s.config));
    return () => charts.forEach((c) => c.destroy());
  }, []);
  return (
    <div style={{ position: "absolute", left: 0, top: 0, width: 1654, height: 1647, background: "#fff", overflow: "hidden", fontFamily: FONT }}>
      {specs.map((s, i) => (
        <canvas key={i} ref={(el) => { refs.current[i] = el; }} width={s.f.w} height={s.f.h}
          style={{ position: "absolute", left: s.f.left, top: s.f.top, width: s.f.w, height: s.f.h, display: "block" }} />
      ))}
      {panelLetters.map(([t, x, y]) => <T key={t} x={x} y={y} s={24} b c="#000">{t}</T>)}
      {statTexts.map(([r, p, eq, x, y]) => (
        <T key={r} x={x} y={y} s={15.2}><i>R</i> {eq} {r}, <i>p</i> = {p}</T>
      ))}
      <T x={1063.7} y={1339.3} s={11.5} c="#333">riskscore</T>

      <T x={1325.4} y={640.5} s={16}>Risk</T>
      <FKey x={1365} fill="#0000FF" />
      <T x={1395.4} y={640.5} s={13.7}>low</T>
      <FKey x={1424} fill="#FF0000" />
      <T x={1454} y={640.5} s={13.7}>high</T>

      <T x={265.3} y={1191.7} s={13.5}>Risk</T>
      <GKey x={300} fill="#0066FF" />
      <T x={324} y={1191.7} s={11}>low</T>
      <GKey x={350} fill="#FF0000" />
      <T x={373} y={1191.7} s={11}>high</T>

      <T x={1316} y={1528} s={11} c="#444">r</T>
      <Rect x={1316} y={1539} w={18} h={92} bg="linear-gradient(to bottom,#E11A55 0%,#EE4D6E 20%,#F7879A 40%,#FDC0CA 60%,#FFFFFF 80%,#D8D2F0 100%)" />
      {colorTicks.map((t, i) => <T key={t} x={1340.7} y={1539 + i * 18.1} s={9.8} c="#444">{t}</T>)}

      <T x={1395.7} y={1532.7} s={11} c="#444">pSeg</T>
      <Rect x={1395.7} y={1542.7} w={17} h={104} bg="#f2f2f2" />
      {pSegLabels.map((t, i) => (
        <React.Fragment key={i}>
          <Rect x={1397.3} y={Math.round(1550.5 + i * 17.7)} w={14} h={2} bg={pSegColors[i]} style={{ opacity: .7 }} />
          <T x={1418.7} y={1551.3 + i * 17.7} s={9.5} c="#444">{t}</T>
        </React.Fragment>
      ))}

      <T x={1504} y={1531} s={11} c="#444">rSeg</T>
      <Rect x={1504} y={1541.3} w={17.7} h={52.7} bg="#f2f2f2" />
      {rSegLabels.map((t, i) => (
        <React.Fragment key={t}>
          <Rect x={1505.5} y={1550 + i * 17.7 - (i + 1) * .7} w={14.5} h={(i + 1) * 1.3} bg="#777" />
          <T x={1527.3} y={1550 + i * 17.7} s={9.5} c="#444">{t}</T>
        </React.Fragment>
      ))}

      <T x={1590.3} y={1531.7} s={11} c="#444">sign</T>
      <Rect x={1590} y={1542} w={18} h={35} bg="#f2f2f2" />
      <Rect x={1592} y={1550.3} w={14} h={1.4} bg="#aaa" />
      <div style={{ position: "absolute", left: 1592, top: 1568.5, width: 14, borderTop: "1px dashed #555" }} />
      {signLabels.map((t, i) => <T key={t} x={1613.3} y={1551 + i * 17.7} s={9.5} c="#444">{t}</T>)}
    </div>
  );
}
